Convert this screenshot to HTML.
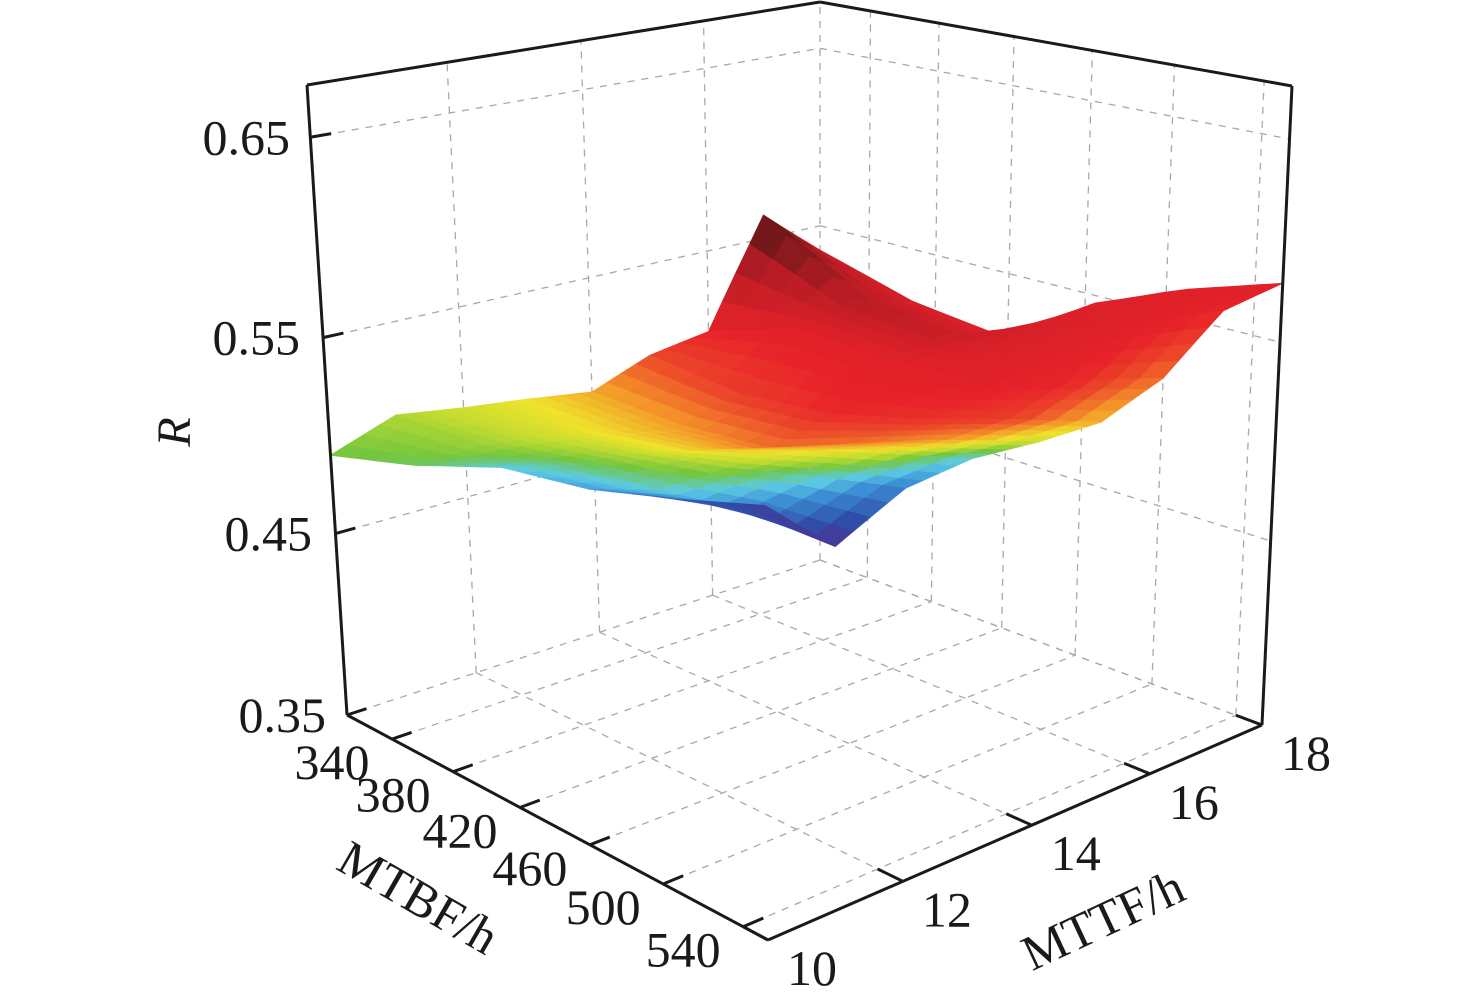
<!DOCTYPE html>
<html><head><meta charset="utf-8"><style>
html,body{margin:0;padding:0;background:#fff;}
svg{display:block;}
text{font-family:"Liberation Serif",serif;fill:#1a1a1a;}
</style></head><body>
<svg id="chart" width="1476" height="1004" viewBox="0 0 1476 1004" xmlns="http://www.w3.org/2000/svg">
<g id="grid"></g>
<g id="surf"></g>
<g id="axes"></g>
<g id="labels"></g>
<text x="190" y="432" font-size="48" font-style="italic" text-anchor="middle" transform="rotate(-90 190 432)">R</text>
<text x="410" y="912" font-size="50" text-anchor="middle" transform="rotate(30 410 912)">MTBF/h</text>
<text x="1110" y="935" font-size="50" text-anchor="middle" transform="rotate(-25 1110 935)">MTTF/h</text>
</svg>
<script>
// ---- data ----
const mtbfValues = [310, 366, 417, 465, 510, 552];
const mttfValues = [10, 11, 12, 13, 14, 15, 16, 17, 18];
const rRow340 = [0.490, 0.502, 0.497, 0.493, 0.488, 0.500, 0.505, 0.563, 0.536];
const rRow380 = [0.503, 0.504, 0.500, 0.493, 0.487, 0.495, 0.522, 0.530, 0.521];
const rRow420 = [0.519, 0.512, 0.507, 0.500, 0.491, 0.500, 0.520, 0.525, 0.515];
const rRow460 = [0.525, 0.515, 0.516, 0.515, 0.509, 0.512, 0.522, 0.540, 0.546];
const rRow500 = [0.536, 0.521, 0.527, 0.528, 0.525, 0.526, 0.536, 0.555, 0.565];
const rRow540 = [0.548, 0.520, 0.536, 0.540, 0.538, 0.538, 0.550, 0.574, 0.579];
const cRow340 = [0.42, 0.48, 0.52, 0.56, 0.62, 0.72, 0.78, 1.00, 0.84];
const cRow380 = [0.40, 0.46, 0.52, 0.58, 0.64, 0.74, 0.80, 0.90, 0.82];
const cRow420 = [0.33, 0.40, 0.50, 0.60, 0.68, 0.77, 0.80, 0.86, 0.80];
const cRow460 = [0.27, 0.34, 0.46, 0.58, 0.68, 0.76, 0.80, 0.82, 0.80];
const cRow500 = [0.15, 0.22, 0.36, 0.52, 0.64, 0.74, 0.78, 0.80, 0.80];
const cRow540 = [0.08, 0.02, 0.22, 0.33, 0.50, 0.60, 0.68, 0.78, 0.80];
const mtbfTicks = [340, 380, 420, 460, 500, 540];
const mttfTicks = [10, 12, 14, 16, 18];
const rTicks = [0.35, 0.45, 0.55, 0.65];
const rTickLabels = ["0.35", "0.45", "0.55", "0.65"];

const rGrid = [rRow340, rRow380, rRow420, rRow460, rRow500, rRow540];
const cGrid = [cRow340, cRow380, cRow420, cRow460, cRow500, cRow540];

// ---- projection (axis functions) ----
function pw(k, x){ for(let i=0;i<k.length-1;i++){ if(x<=k[i+1][0]||i===k.length-2){ const a=k[i],b=k[i+1]; return a[1]+(x-a[0])/(b[0]-a[0])*(b[1]-a[1]); } } }
const uKn=[[310,0],[340,0.107],[380,0.252],[420,0.411],[460,0.577],[500,0.751],[540,0.941],[552,1]];
const vKn=[[10,0],[12,0.273],[14,0.534],[16,0.773],[18,1]];
const zKn=[[0.35,0],[0.45,0.288],[0.55,0.599],[0.65,0.917],[0.675,1]];
const L=[347,715],F=[768,940],R=[1262,725],B=[820,560];
const Lt=[307,85],Ft=[763,207],Rt=[1292,86],Bt=[820,2];
function bil(p00,p10,p01,p11,u,v){return [0,1].map(i=>p00[i]*(1-u)*(1-v)+p10[i]*u*(1-v)+p01[i]*(1-u)*v+p11[i]*u*v);}
function P(m,t,r){const u=pw(uKn,m),v=pw(vKn,t),z=pw(zKn,r);
 const b=bil(L,F,B,R,u,v),tp=bil(Lt,Ft,Bt,Rt,u,v);return [b[0]+z*(tp[0]-b[0]),b[1]+z*(tp[1]-b[1])];}
const NS="http://www.w3.org/2000/svg";
function line(g,a,b,st,w,dash,name){const e=document.createElementNS(NS,'line');
 e.setAttribute('x1',a[0]);e.setAttribute('y1',a[1]);e.setAttribute('x2',b[0]);e.setAttribute('y2',b[1]);
 e.setAttribute('stroke',st);e.setAttribute('stroke-width',w);if(dash)e.setAttribute('stroke-dasharray',dash);
 
 
 g.appendChild(e);}
function text(g,x,y,s,name){const e=document.createElementNS(NS,'text');e.setAttribute('x',x);e.setAttribute('y',y);
 e.setAttribute('font-size','50');e.setAttribute('text-anchor','middle');e.textContent=s;
 
 
 g.appendChild(e);}
const g=document.getElementById('grid'),ax=document.getElementById('axes'),lb=document.getElementById('labels');
const M0=310,M1=552,T0=10,T1=18,Z0=0.35,Z1=0.675,GC='#a8a8a8',DA='7 7';
rTicks.forEach(r=>{line(g,P(M0,T0,r),P(M0,T1,r),GC,1.3,DA,'left-wall-gridline');line(g,P(M0,T1,r),P(M1,T1,r),GC,1.3,DA,'right-wall-gridline');});
mttfTicks.forEach(t=>{line(g,P(M0,t,Z0),P(M0,t,Z1),GC,1.3,DA,'left-wall-vgrid');line(g,P(M0,t,Z0),P(M1,t,Z0),GC,1.3,DA,'floor-gridline');});
mtbfTicks.forEach(m=>{line(g,P(m,T1,Z0),P(m,T1,Z1),GC,1.3,DA,'right-wall-vgrid');line(g,P(m,T0,Z0),P(m,T1,Z0),GC,1.3,DA,'floor-gridline');});
// surface
const cm=[[0,'#55288c'],[0.12,'#2f4ea8'],[0.25,'#3d8fd6'],[0.33,'#5ccbe6'],[0.42,'#74c63e'],[0.5,'#c4dc30'],[0.56,'#efe22c'],[0.64,'#f4982a'],[0.72,'#ec4a2a'],[0.78,'#e8222a'],[0.9,'#b81c24'],[1,'#4a1616']];
function hx(h){return [1,3,5].map(i=>parseInt(h.substr(i,2),16));}
function col(c){c=Math.max(0,Math.min(1,c));for(let i=0;i<cm.length-1;i++){if(c<=cm[i+1][0]){const f=(c-cm[i][0])/(cm[i+1][0]-cm[i][0]);const a=hx(cm[i][1]),b=hx(cm[i+1][1]);return 'rgb('+a.map((x,k)=>Math.round(x+f*(b[k]-x))).join(',')+')';}}return cm[cm.length-1][1];}
const sg=document.getElementById('surf');const quads=[];const S=4;
for(let i=0;i<mtbfValues.length-1;i++)for(let j=0;j<mttfValues.length-1;j++){
 for(let a=0;a<S;a++)for(let b=0;b<S;b++){
  const pts=[],cs=[];
  [[a,b],[a+1,b],[a+1,b+1],[a,b+1]].forEach(([p,q])=>{const s=p/S,t=q/S;
   const m=mtbfValues[i]*(1-s)+mtbfValues[i+1]*s,tt=mttfValues[j]*(1-t)+mttfValues[j+1]*t;
   const r=rGrid[i][j]*(1-s)*(1-t)+rGrid[i+1][j]*s*(1-t)+rGrid[i][j+1]*(1-s)*t+rGrid[i+1][j+1]*s*t;
   const c=cGrid[i][j]*(1-s)*(1-t)+cGrid[i+1][j]*s*(1-t)+cGrid[i][j+1]*(1-s)*t+cGrid[i+1][j+1]*s*t;
   pts.push(P(m,tt,r));cs.push(c);});
  const u=(i+(a+0.5)/S)/(mtbfValues.length-1),v=(j+(b+0.5)/S)/(mttfValues.length-1);
  quads.push({pts,c:cs.reduce((x,y)=>x+y)/4,key:v-u});
 }}
quads.sort((p,q)=>q.key-p.key);
quads.forEach(qd=>{const e=document.createElementNS(NS,'polygon');
 e.setAttribute('points',qd.pts.map(p=>p[0].toFixed(1)+','+p[1].toFixed(1)).join(' '));
 const c=col(qd.c);e.setAttribute('fill',c);e.setAttribute('stroke',c);e.setAttribute('stroke-width','0.8');
 
 
 sg.appendChild(e);});
// axes
const K='#1a1a1a';
line(ax,P(M0,T0,Z0),P(M0,T0,Z1),K,3,null,'z-axis-line');
line(ax,P(M0,T0,Z1),P(M0,T1,Z1),K,3,null,'top-left-edge');
line(ax,P(M0,T1,Z1),P(M1,T1,Z1),K,3,null,'top-right-edge');
line(ax,P(M1,T1,Z0),P(M1,T1,Z1),K,3,null,'right-vertical-edge');
line(ax,P(M0,T0,Z0),P(M1,T0,Z0),K,3,null,'mtbf-axis-line');
line(ax,P(M1,T0,Z0),P(M1,T1,Z0),K,3,null,'mttf-axis-line');
rTicks.forEach(r=>line(ax,P(M0,T0,r),P(M0,T0+0.3,r),K,3,null,'z-tick'));
mtbfTicks.forEach(m=>line(ax,P(m,T0,Z0),P(m,T0+0.3,Z0),K,3,null,'mtbf-tick'));
mttfTicks.forEach(t=>line(ax,P(M1,t,Z0),P(M1-12,t,Z0),K,3,null,'mttf-tick'));
// labels
const rEnds=[326,312,300,290];
rTicks.forEach((r,k)=>{const p=P(M0,T0,r);const e=document.createElementNS(NS,'text');
 e.setAttribute('x',rEnds[k]);e.setAttribute('y',p[1]+17);e.setAttribute('font-size','50');e.setAttribute('text-anchor','end');
 e.textContent=rTickLabels[k];
 
 
 lb.appendChild(e);});
mtbfTicks.forEach(m=>{const p=P(m,T0,Z0);text(lb,p[0]-60,p[1]+40,String(m),'mtbf-tick-label');});
mttfTicks.forEach(t=>{const p=P(M1,t,Z0);text(lb,p[0]+44,p[1]+45,String(t),'mttf-tick-label');});
</script>
</body></html>
